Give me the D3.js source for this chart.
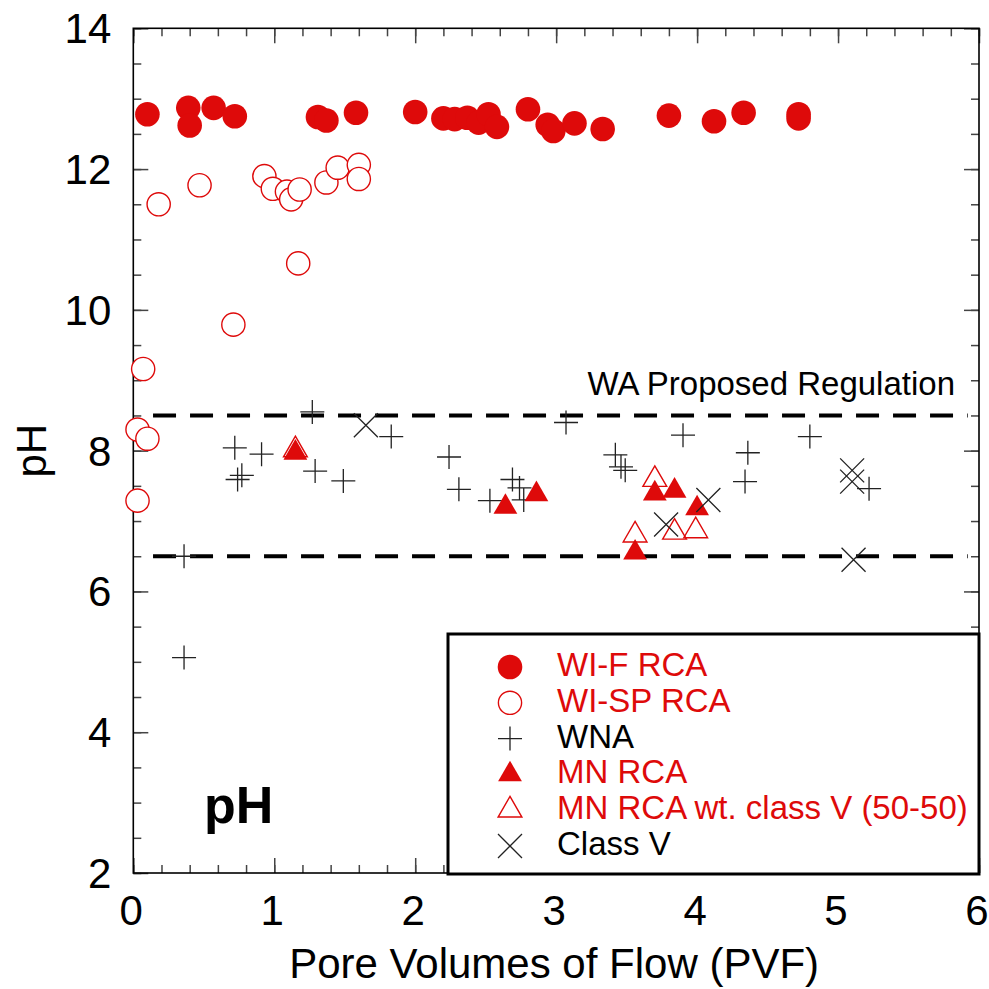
<!DOCTYPE html>
<html>
<head>
<meta charset="utf-8">
<script src="https://cdn.jsdelivr.net/npm/d3@7"></script>
<style>
  body { margin: 0; background: #fff; }
  text { font-family: "Liberation Sans", Arial, sans-serif; }
</style>
</head>
<body>
<div id="chart"></div>
<script>
// series data: [PVF, pH]
var wiF = [
  [0.10, 12.78], [0.39, 12.87], [0.40, 12.62], [0.57, 12.87], [0.72, 12.75],
  [1.31, 12.74], [1.37, 12.69], [1.58, 12.80], [2.00, 12.81], [2.20, 12.72],
  [2.28, 12.71], [2.37, 12.73], [2.45, 12.66], [2.52, 12.78], [2.58, 12.60],
  [2.80, 12.85], [2.94, 12.63], [2.98, 12.54], [3.13, 12.65], [3.33, 12.57],
  [3.80, 12.76], [4.12, 12.68], [4.33, 12.80], [4.72, 12.78], [4.72, 12.72]
];
var wiSP = [
  [0.18, 11.50], [0.47, 11.77], [0.93, 11.90], [0.99, 11.72], [1.09, 11.68],
  [1.12, 11.57], [1.18, 11.71], [1.37, 11.81], [1.45, 12.02], [1.60, 12.06],
  [1.60, 11.86], [1.17, 10.66], [0.71, 9.79], [0.07, 9.16], [0.03, 8.30],
  [0.10, 8.17], [0.03, 7.29]
];
var wna = [
  [0.72, 8.04], [0.91, 7.95], [0.74, 7.59], [0.77, 7.65], [1.27, 8.55],
  [1.29, 7.71], [1.49, 7.57], [1.83, 8.20], [2.24, 7.91], [2.31, 7.45],
  [2.53, 7.29], [0.36, 6.50], [0.36, 5.06], [3.07, 8.40], [2.69, 7.59],
  [2.74, 7.47], [2.77, 7.30], [3.42, 7.94], [3.46, 7.77], [3.49, 7.72],
  [3.90, 8.22], [4.36, 7.97], [4.34, 7.56], [4.80, 8.20], [5.22, 7.46]
];
var mnRCA = [
  [1.15, 7.97], [2.64, 7.20], [2.86, 7.38], [3.70, 7.39], [3.84, 7.43],
  [4.00, 7.18], [3.56, 6.55]
];
var mnClassV = [
  [1.15, 8.01], [3.70, 7.59], [3.56, 6.80], [3.84, 6.84], [3.99, 6.86]
];
var classV = [
  [1.65, 8.36], [5.10, 7.72], [5.10, 7.56], [5.11, 6.45], [4.08, 7.30], [3.78, 6.95]
];
var regulation = [8.5, 6.5];
var legendNames = ["WI-F RCA", "WI-SP RCA", "WNA", "MN RCA", "MN RCA wt. class V (50-50)", "Class V"];
var xTicks = [0, 1, 2, 3, 4, 5, 6];
var yTicks = [2, 4, 6, 8, 10, 12, 14];

var width = 989, height = 989;
var red = "#de0a0a";
var plotL = 133.3, plotR = 979, plotT = 28.3, plotB = 873;

var svg = d3.select("#chart").append("svg")
  .attr("width", width).attr("height", height);

var x = d3.scaleLinear().domain([0, 6]).range([plotL, plotR]);
var y = d3.scaleLinear().domain([2, 14]).range([plotB, plotT]);

// ticks, inward on all four sides
var tickColor = "#444";
function ticks(axis, size) {
  return axis.tickSizeInner(size).tickSizeOuter(0).tickFormat("");
}
var xMinor = d3.range(0, 6.01, 0.2);
var yMinor = d3.range(2, 14.01, 0.5);
var gTicks = svg.append("g");
[[d3.axisTop, plotB], [d3.axisBottom, plotT]].forEach(function (a) {
  gTicks.append("g").attr("transform", "translate(0," + a[1] + ")")
    .call(ticks(a[0](x).tickValues(xMinor), 8));
  gTicks.append("g").attr("transform", "translate(0," + a[1] + ")")
    .call(ticks(a[0](x).tickValues(xTicks), 15));
});
[[d3.axisRight, plotL], [d3.axisLeft, plotR]].forEach(function (a) {
  gTicks.append("g").attr("transform", "translate(" + a[1] + ",0)")
    .call(ticks(a[0](y).tickValues(yMinor), 8));
  gTicks.append("g").attr("transform", "translate(" + a[1] + ",0)")
    .call(ticks(a[0](y).tickValues(yTicks), 15));
});
gTicks.selectAll(".domain").remove();
gTicks.selectAll("line").attr("stroke", tickColor).attr("stroke-width", 1.5);

// frame
svg.append("rect")
  .attr("x", plotL).attr("y", plotT)
  .attr("width", plotR - plotL).attr("height", plotB - plotT)
  .attr("fill", "none").attr("stroke", "#000").attr("stroke-width", 1.6);

// tick labels
svg.append("g").selectAll("text").data(xTicks).enter().append("text")
  .attr("x", function (d) { return x(d) - 2; })
  .attr("y", plotB + 52)
  .attr("text-anchor", "middle")
  .attr("font-size", 42)
  .text(function (d) { return d; });
svg.append("g").selectAll("text").data(yTicks).enter().append("text")
  .attr("x", plotL - 22)
  .attr("y", function (d) { return y(d) + 15; })
  .attr("text-anchor", "end")
  .attr("font-size", 42)
  .text(function (d) { return d; });

// axis titles
svg.append("text")
  .attr("x", (plotL + plotR) / 2 - 2).attr("y", 978)
  .attr("text-anchor", "middle").attr("font-size", 42)
  .text("Pore Volumes of Flow (PVF)");
svg.append("text")
  .attr("transform", "translate(46," + y(8) + ") rotate(-90)")
  .attr("text-anchor", "middle").attr("font-size", 42)
  .text("pH");

// regulation lines
svg.append("g").selectAll("line").data(regulation).enter().append("line")
  .attr("x1", x(0.14)).attr("x2", x(5.92))
  .attr("y1", function (d) { return y(d); })
  .attr("y2", function (d) { return y(d); })
  .attr("stroke", "#000").attr("stroke-width", 4)
  .attr("stroke-dasharray", "23,14");
svg.append("text")
  .attr("x", 955).attr("y", y(8.5) - 20)
  .attr("text-anchor", "end").attr("font-size", 33)
  .text("WA Proposed Regulation");

// marker shapes
var circlePath = d3.symbol().type(d3.symbolCircle).size(Math.PI * 12.3 * 12.3)();
var openCirclePath = d3.symbol().type(d3.symbolCircle).size(Math.PI * 11.6 * 11.6)();
var triPath = d3.symbol().type(d3.symbolTriangle).size(245)();
var plusPath = "M-12,0H12M0,-12V12";
var crossPath = "M-12,-12L12,12M-12,12L12,-12";

var series = [
  { data: wiF, path: circlePath, fill: red, stroke: "none", sw: 0 },
  { data: wiSP, path: openCirclePath, fill: "#fff", stroke: red, sw: 1.4 },
  { data: wna, path: plusPath, fill: "none", stroke: "#222", sw: 1.3 },
  { data: mnRCA, path: triPath, fill: red, stroke: "none", sw: 0 },
  { data: mnClassV, path: triPath, fill: "none", stroke: red, sw: 1.4 },
  { data: classV, path: crossPath, fill: "none", stroke: "#222", sw: 1.3 }
];

series.forEach(function (s) {
  svg.append("g").selectAll("path").data(s.data).enter().append("path")
    .attr("transform", function (d) { return "translate(" + x(d[0]) + "," + y(d[1]) + ")"; })
    .attr("d", s.path)
    .attr("fill", s.fill)
    .attr("stroke", s.stroke)
    .attr("stroke-width", s.sw);
});

// pH label in plot
svg.append("text")
  .attr("x", 204).attr("y", 823)
  .attr("font-size", 52).attr("font-weight", "bold")
  .text("pH");

// legend
var legend = svg.append("g");
legend.append("rect")
  .attr("x", 448).attr("y", 634)
  .attr("width", 531).attr("height", 240)
  .attr("fill", "#fff").attr("stroke", "#000").attr("stroke-width", 3);
var rowY = d3.scaleLinear().domain([0, 5]).range([667, 846]);
var textColor = [red, red, "#000", red, red, "#000"];
var row = legend.selectAll("g.row").data(series).enter().append("g")
  .attr("transform", function (d, i) { return "translate(0," + rowY(i) + ")"; });
row.append("path")
  .attr("transform", "translate(510,0)")
  .attr("d", function (d) { return d.path; })
  .attr("fill", function (d) { return d.fill; })
  .attr("stroke", function (d) { return d.stroke; })
  .attr("stroke-width", function (d) { return d.sw; });
row.append("text")
  .attr("x", 557).attr("y", 9)
  .attr("font-size", 33)
  .attr("fill", function (d, i) { return textColor[i]; })
  .text(function (d, i) { return legendNames[i]; });
</script>
</body>
</html>
